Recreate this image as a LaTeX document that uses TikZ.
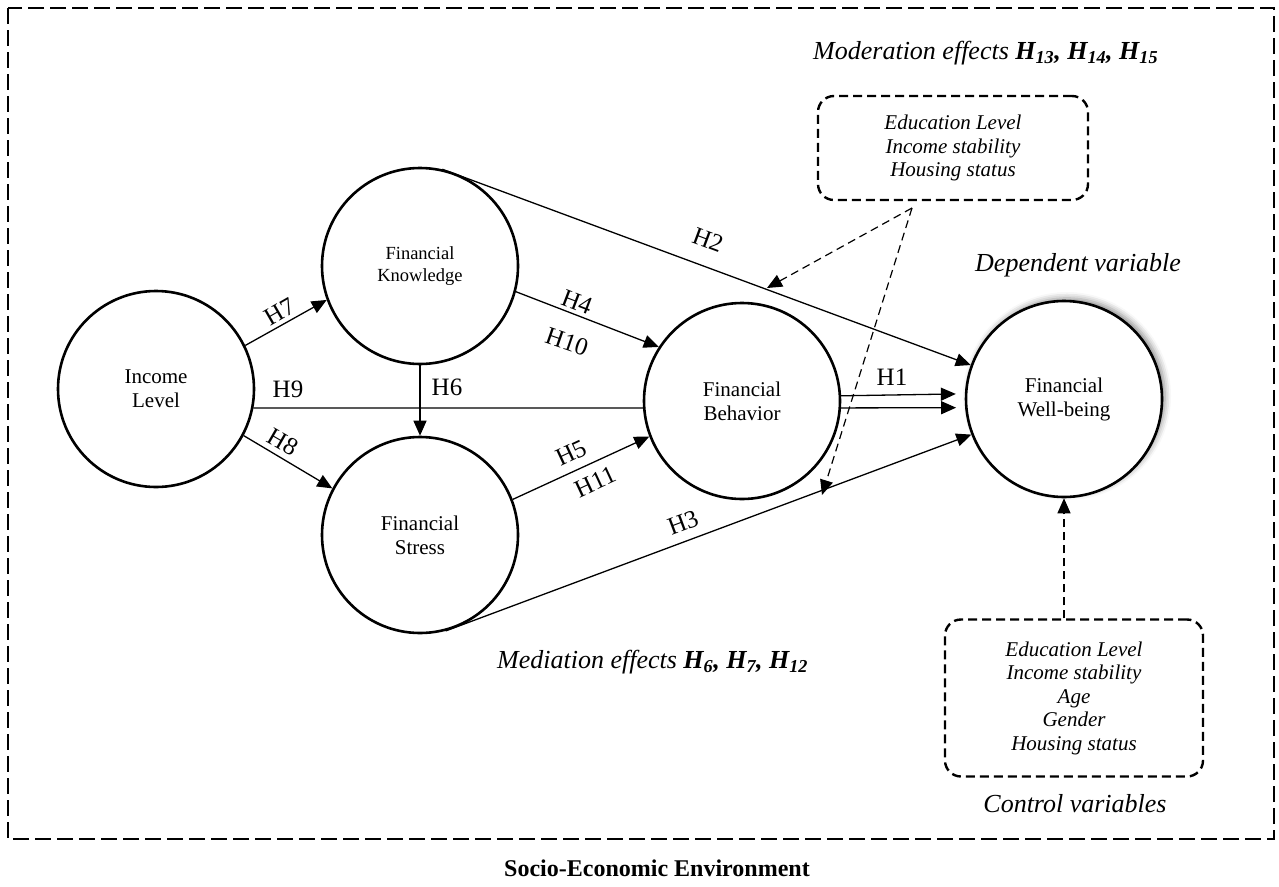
\documentclass[tikz,border=0pt]{standalone}
\usepackage{fontspec}
\setmainfont{Liberation Serif}
\usetikzlibrary{arrows.meta,shadows.blur}
\begin{document}
\begin{tikzpicture}[x=1pt,y=-1pt,
  construct/.style={circle,draw,line width=2.6pt,minimum size=196pt,inner sep=0pt,
    align=center,fill=white,font=\fontsize{21}{24}\selectfont},
  link/.style={line width=1.3pt,-{Triangle[length=15pt,width=13pt]}},
  plainlink/.style={line width=1.3pt},
  modlink/.style={line width=1.2pt,dash pattern=on 8pt off 5pt,-{Triangle[length=15pt,width=13pt]}},
  hlab/.style={font=\fontsize{25}{30}\selectfont,inner sep=0pt},
  varbox/.style={draw,line width=2.4pt,dash pattern=on 9pt off 5pt,rounded corners=16pt,
    align=center,inner sep=0pt,font=\fontsize{21}{23.5}\selectfont\itshape},
  caption/.style={font=\fontsize{26}{30}\selectfont\itshape,inner sep=0pt}
]
\useasboundingbox (0,0) rectangle (1279,886);

% environment frame and its title
\draw[line width=2.4pt,dash pattern=on 16pt off 6pt] (8,8) rectangle (1274,839);
\node[font=\fontsize{24}{28}\selectfont\bfseries] (env) at (657,868) {Socio-Economic Environment};

% constructs
\node[construct] (inc) at (156,389) {Income\\Level};
\node[construct,font=\fontsize{18.5}{21.5}\selectfont] (fk) at (420,266) {Financial\\Knowledge};
\node[construct] (fs) at (420,535) {Financial\\Stress};
\node[construct] (fb) at (742,401) {Financial\\Behavior};
\node[construct,blur shadow={shadow xshift=3pt,shadow yshift=3pt,shadow blur radius=6pt,shadow opacity=45}]
  (wb) at (1064,399) {Financial\\Well-being};

% moderators and controls
\node[varbox,minimum width=270pt,minimum height=104pt] (mod) at (953,148)
  {Education Level\\Income stability\\Housing status};
\node[varbox,minimum width=258pt,minimum height=157pt] (ctrl) at (1074,698)
  {Education Level\\Income stability\\Age\\Gender\\Housing status};

\node[caption,anchor=west] (modtitle) at (813,53)
  {Moderation effects \textbf{H\textsubscript{13}, H\textsubscript{14}, H\textsubscript{15}}};
\node[caption,anchor=west] (medtitle) at (497,662)
  {Mediation effects \textbf{H\textsubscript{6}, H\textsubscript{7}, H\textsubscript{12}}};
\node[caption,anchor=west] (dep) at (975,265) {Dependent variable};
\node[caption] (ctrltitle) at (1075,804) {Control variables};

% structural paths
\draw[link] (inc.26) -- (fk.200);
\draw[link] (inc.-28) -- (fs.152);
\draw[link] (fk.south) -- (fs.north);
\draw[plainlink] (inc.-11.7) -- (fb.184.6);
\draw[link] (fk.-15) -- (fb.147);
\draw[link] (fs.21) -- (fb.201);
\draw[link] (fk.77) -- (wb.160);
\draw[link] (fs.-75) -- (wb.201);
\draw[link,shorten >=9pt] (fb.3.5) -- (wb.177.7);
\draw[link,shorten >=9pt] (fb.-4.6) -- (wb.185.8);

% path labels
\node[hlab,rotate=30] (h7) at (280,312) {H7};
\node[hlab,rotate=-30] (h8) at (283,442) {H8};
\node[hlab] (h6) at (447,387) {H6};
\node[hlab] (h9) at (288,389) {H9};
\node[hlab,rotate=-21] (h4) at (577,302) {H4};
\node[hlab,rotate=-19] (h10) at (567,342) {H10};
\node[hlab,rotate=25] (h5) at (571,453) {H5};
\node[hlab,rotate=25] (h11) at (595,482) {H11};
\node[hlab,rotate=20.5] (h3) at (683,523) {H3};
\node[hlab,rotate=-20.5] (h2) at (708,240) {H2};
\node[hlab] (h1) at (892,377) {H1};

% moderating and control effects
\coordinate (msrc) at (912,208);
\coordinate (mtgtA) at (767,288);
\coordinate (mtgtB) at (822,495);
\draw[modlink] (msrc) -- (mtgtA);
\draw[modlink] (msrc) -- (mtgtB);
\draw[modlink] (ctrl.north -| wb.south) -- (wb.south);
\end{tikzpicture}
\end{document}
